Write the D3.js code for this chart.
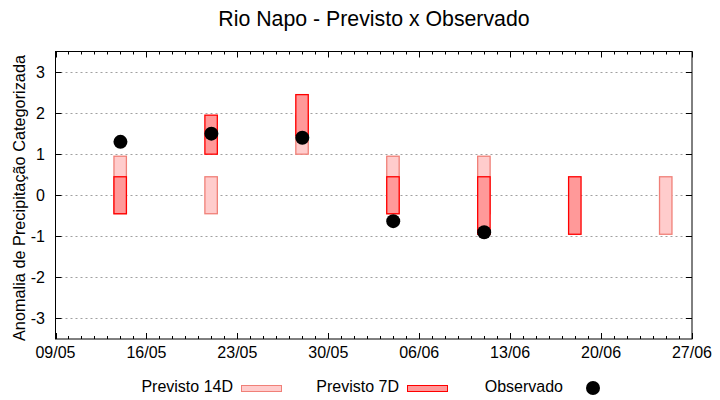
<!DOCTYPE html>
<html>
<head>
<meta charset="utf-8">
<script src="https://cdn.jsdelivr.net/npm/d3@7"></script>
<style>
  body { margin: 0; background: #fff; }
  text { font-family: "Liberation Sans", Arial, sans-serif; }
</style>
</head>
<body>
<div class="canvas"></div>
<script>
// data
const tickLabels = ["09/05", "16/05", "23/05", "30/05", "06/06", "13/06", "20/06", "27/06"];
const dates = ["14/05", "21/05", "28/05", "04/06", "11/06", "18/06", "25/06"];
const prev14Low  = [-0.45, -0.45, 1.0, -0.45, -0.45, null, -0.95];
const prev14High = [0.95, 0.45, 1.95, 0.95, 0.95, null, 0.45];
const prev7Low   = [-0.45, 1.0, 1.45, -0.45, -0.95, -0.95, null];
const prev7High  = [0.45, 1.95, 2.45, 0.45, 0.45, 0.45, null];
const observado  = [1.3, 1.5, 1.4, -0.63, -0.9, null, null];
const yTicks = [-3, -2, -1, 0, 1, 2, 3];

const parse = s => d3.utcParse("%d/%m/%Y")(s + "/2024");

const dims = { width: 720, height: 400 };
const margin = { left: 55.5, right: 28, top: 51.5, bottom: 61 };
const w = dims.width - margin.left - margin.right;
const h = dims.height - margin.top - margin.bottom;

const svg = d3.select('.canvas')
  .append('svg')
  .attr('width', dims.width)
  .attr('height', dims.height);

const x = d3.scaleUtc()
  .domain([parse(tickLabels[0]), parse(tickLabels[tickLabels.length - 1])])
  .range([margin.left, margin.left + w]);

const y = d3.scaleLinear()
  .domain([-3.5, 3.5])
  .range([margin.top + h, margin.top]);

// title
svg.append('text')
  .attr('x', 374).attr('y', 26)
  .attr('text-anchor', 'middle')
  .attr('font-size', 21.3)
  .text('Rio Napo - Previsto x Observado');

// grid
svg.append('g').selectAll('line')
  .data(yTicks)
  .enter().append('line')
    .attr('x1', margin.left).attr('x2', margin.left + w)
    .attr('y1', d => Math.round(y(d)) + 0.5).attr('y2', d => Math.round(y(d)) + 0.5)
    .attr('stroke', '#a0a0a0')
    .attr('stroke-dasharray', '2,3');

// ticks (inward, mirrored)
const minorDays = d3.utcDay.range(x.domain()[0], d3.utcDay.offset(x.domain()[1], 1));
const majorDates = tickLabels.map(parse);
const tickG = svg.append('g').attr('stroke', '#000');
minorDays.forEach(d => {
  const major = majorDates.some(m => +m === +d);
  const len = major ? 6 : 3;
  const xx = Math.round(x(d)) + 0.5;
  tickG.append('line').attr('x1', xx).attr('x2', xx)
    .attr('y1', margin.top + h).attr('y2', margin.top + h - len);
  tickG.append('line').attr('x1', xx).attr('x2', xx)
    .attr('y1', margin.top).attr('y2', margin.top + len);
});
yTicks.forEach(d => {
  const yy = Math.round(y(d)) + 0.5;
  tickG.append('line').attr('x1', margin.left).attr('x2', margin.left + 6)
    .attr('y1', yy).attr('y2', yy);
  tickG.append('line').attr('x1', margin.left + w).attr('x2', margin.left + w - 6)
    .attr('y1', yy).attr('y2', yy);
});

// tick labels
svg.append('g').selectAll('text')
  .data(tickLabels)
  .enter().append('text')
    .attr('x', d => x(parse(d)))
    .attr('y', 358)
    .attr('text-anchor', 'middle')
    .attr('font-size', 16)
    .text(d => d);

svg.append('g').selectAll('text')
  .data(yTicks)
  .enter().append('text')
    .attr('x', 45)
    .attr('y', d => y(d))
    .attr('dy', '0.36em')
    .attr('text-anchor', 'end')
    .attr('font-size', 16)
    .text(d => d);

// axis title
svg.append('text')
  .attr('transform', 'translate(25, 198) rotate(-90)')
  .attr('text-anchor', 'middle')
  .attr('font-size', 16.3)
  .text('Anomalia de Precipitação Categorizada');

// bars
const halfDay = 0.47;
const barX = d => x(d3.utcHour.offset(parse(d), -halfDay * 24));
const barW = d => x(d3.utcHour.offset(parse(d), halfDay * 24)) - barX(d);

const bars14 = dates.map((d, i) => ({ d, lo: prev14Low[i], hi: prev14High[i] })).filter(b => b.lo != null);
const bars7 = dates.map((d, i) => ({ d, lo: prev7Low[i], hi: prev7High[i] })).filter(b => b.lo != null);

svg.append('g').selectAll('rect')
  .data(bars14)
  .enter().append('rect')
    .attr('x', b => barX(b.d)).attr('width', b => barW(b.d))
    .attr('y', b => y(b.hi)).attr('height', b => y(b.lo) - y(b.hi))
    .attr('fill', '#ffcccc')
    .attr('stroke', '#f08078')
    .attr('stroke-width', 1.3);

svg.append('g').selectAll('rect')
  .data(bars7)
  .enter().append('rect')
    .attr('x', b => barX(b.d)).attr('width', b => barW(b.d))
    .attr('y', b => y(b.hi)).attr('height', b => y(b.lo) - y(b.hi))
    .attr('fill', '#ff9999')
    .attr('stroke', '#ff0000')
    .attr('stroke-width', 1.3);

// observed points
const obs = dates.map((d, i) => ({ d, v: observado[i] })).filter(o => o.v != null);
svg.append('g').selectAll('circle')
  .data(obs)
  .enter().append('circle')
    .attr('cx', o => x(parse(o.d)))
    .attr('cy', o => y(o.v))
    .attr('r', 7)
    .attr('fill', '#000');

// frame
svg.append('rect')
  .attr('x', margin.left).attr('y', margin.top)
  .attr('width', w).attr('height', h)
  .attr('fill', 'none')
  .attr('stroke', '#000');

// legend
const legend = svg.append('g').attr('font-size', 16);
legend.append('text').attr('x', 233).attr('y', 392).attr('text-anchor', 'end').text('Previsto 14D');
legend.append('rect').attr('x', 241.5).attr('y', 385.5).attr('width', 40).attr('height', 6)
  .attr('fill', '#ffcccc').attr('stroke', '#f08078');
legend.append('text').attr('x', 399).attr('y', 392).attr('text-anchor', 'end').text('Previsto 7D');
legend.append('rect').attr('x', 407.5).attr('y', 385.5).attr('width', 40).attr('height', 6)
  .attr('fill', '#ff9999').attr('stroke', '#ff0000');
legend.append('text').attr('x', 563).attr('y', 392).attr('text-anchor', 'end').text('Observado');
legend.append('circle').attr('cx', 593).attr('cy', 388).attr('r', 7).attr('fill', '#000');
</script>
</body>
</html>
